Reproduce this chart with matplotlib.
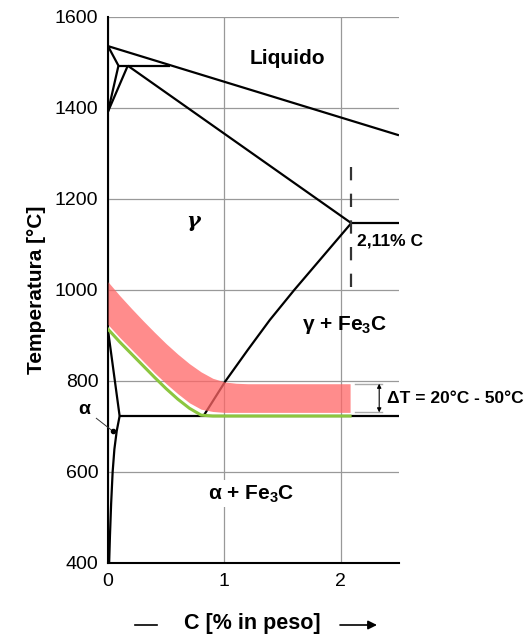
import matplotlib
matplotlib.use('Agg')
import matplotlib.pyplot as plt

plt.rcParams['font.family'] = ['Liberation Sans', 'DejaVu Sans']
plt.rcParams['mathtext.fontset'] = 'custom'
plt.rcParams['mathtext.rm'] = 'Liberation Sans:bold'
plt.rcParams['mathtext.bf'] = 'Liberation Sans:bold'

# Linee del diagramma Fe-C (C in %, T in °C)
liquidus_c = [0, 2.5]
liquidus_t = [1536, 1340]
delta_c = [0, 0.09, 0]
delta_t = [1536, 1493, 1392]
gamma_sx_c = [0, 0.17]
gamma_sx_t = [1392, 1493]
peritettica_c = [0.09, 0.53]
peritettica_t = [1493, 1493]
solidus_c = [0.17, 2.09]
solidus_t = [1493, 1147]
eutettica_c = [2.09, 2.5]
eutettica_t = [1147, 1147]
acm_c = [0.82, 1.01, 1.2, 1.39, 1.6, 1.85, 2.09]
acm_t = [723, 800, 868, 934, 1000, 1075, 1147]
eutettoide_c = [0.1, 2.5]
eutettoide_t = [723, 723]
alfa_c = [0, 0.1]
alfa_t = [912, 723]
solvus_c = [0.1, 0.075, 0.055, 0.04, 0.027, 0.017, 0.01]
solvus_t = [723, 690, 650, 600, 530, 460, 400]

# Banda di temperatura di austenitizzazione
banda_c = [0, 0.1, 0.2, 0.3, 0.4, 0.5, 0.6, 0.7, 0.8, 0.9, 1.0, 1.1, 1.2, 2.08]
a3_t = [914, 886, 860, 834, 808, 783, 760, 740, 725, 723, 723, 723, 723, 723]
banda_basso = [924, 896, 870, 844, 818, 794, 772, 752, 738, 733, 731, 731, 731, 731]
banda_alto = [1018, 988, 960, 933, 907, 882, 859, 838, 820, 806, 798, 795, 794, 794]

y_ticks = [400, 600, 800, 1000, 1200, 1400, 1600]
x_ticks = [0, 1, 2]

fig = plt.figure(figsize=(5.27, 6.34), dpi=100)
ax = fig.add_axes([0.2049, 0.112, 0.5522, 0.8612])

ax.set_xlim(0, 2.5)
ax.set_ylim(400, 1600)
ax.set_xticks(x_ticks)
ax.set_yticks(y_ticks)
ax.tick_params(length=0, labelsize=14, pad=7)
ax.grid(True, color='#999999', lw=0.9)
ax.set_axisbelow(True)
for s in ['top', 'right']:
    ax.spines[s].set_visible(False)
for s in ['left', 'bottom']:
    ax.spines[s].set_linewidth(1.5)

lw = 1.6
for c, t in [(liquidus_c, liquidus_t), (delta_c, delta_t), (gamma_sx_c, gamma_sx_t),
             (peritettica_c, peritettica_t), (solidus_c, solidus_t),
             (eutettica_c, eutettica_t), (acm_c, acm_t), (eutettoide_c, eutettoide_t),
             (alfa_c, alfa_t), (solvus_c, solvus_t)]:
    ax.plot(c, t, color='black', lw=lw, zorder=3, solid_capstyle='butt')

# banda rossa e linea verde
ax.fill_between(banda_c, banda_basso, banda_alto, color='#ff6666', alpha=0.75,
                lw=0, zorder=4)
ax.plot(banda_c, a3_t, color='#8cc63f', lw=2.2, zorder=5)

# linea tratteggiata a 2,11% C
ax.plot([2.09, 2.09], [1270, 1000], color='#333333', lw=1.6, dashes=(6, 6), zorder=3)
ax.text(2.14, 1108, '2,11% C', fontsize=12.5, fontweight='bold', va='center')

# etichette delle fasi
ax.text(1.54, 1508, 'Liquido', fontsize=15, fontweight='bold', ha='center', va='center')
ax.text(0.73, 1152, 'γ', fontsize=15, fontweight='bold', style='italic',
        family='DejaVu Serif', ha='center', va='center')
ax.text(2.03, 923, 'γ + Fe$_3$C', fontsize=15, fontweight='bold', ha='center',
        va='center')
ax.text(1.23, 552, 'α + Fe$_3$C', fontsize=15, fontweight='bold', ha='center',
        va='center', bbox=dict(fc='white', ec='none', pad=2), zorder=6)

# etichetta alfa
ax.text(-0.2, 738, 'α', fontsize=14, fontweight='bold', ha='center', va='center',
        clip_on=False)
ax.plot([-0.1, 0.04], [718, 690], color='#333333', lw=0.7, clip_on=False, zorder=6)
ax.plot([0.04], [690], 'o', color='black', ms=3, zorder=6)

# Delta T
ax.plot([2.12, 2.35], [794, 794], color='#aaaaaa', lw=1, clip_on=False)
ax.plot([2.12, 2.35], [731, 731], color='#aaaaaa', lw=1, clip_on=False)
ax.annotate('', xy=(2.33, 794), xytext=(2.33, 731),
            arrowprops=dict(arrowstyle='<|-|>', color='black', lw=0.8,
                            mutation_scale=6, shrinkA=0, shrinkB=0),
            annotation_clip=False)
ax.text(2.4, 762, 'ΔT = 20°C - 50°C', fontsize=12.5, fontweight='bold', va='center',
        clip_on=False)

# etichette assi
ax.set_ylabel('Temperatura [°C]', fontsize=15, fontweight='bold', labelpad=6)
fig.text(252 / 527, 1 - 623 / 634, 'C [% in peso]', fontsize=15.5, fontweight='bold',
         ha='center', va='center')
y_freccia = 1 - 625 / 634
fig.add_artist(plt.Line2D([135 / 527, 157 / 527], [y_freccia, y_freccia],
                          transform=fig.transFigure, color='black', lw=1.2))
ax.annotate('', xy=(377 / 527, y_freccia), xytext=(340 / 527, y_freccia),
            xycoords='figure fraction',
            arrowprops=dict(arrowstyle='-|>', color='black', lw=1.2,
                            mutation_scale=13, shrinkA=0, shrinkB=0))

fig.savefig('out.png', dpi=100)
